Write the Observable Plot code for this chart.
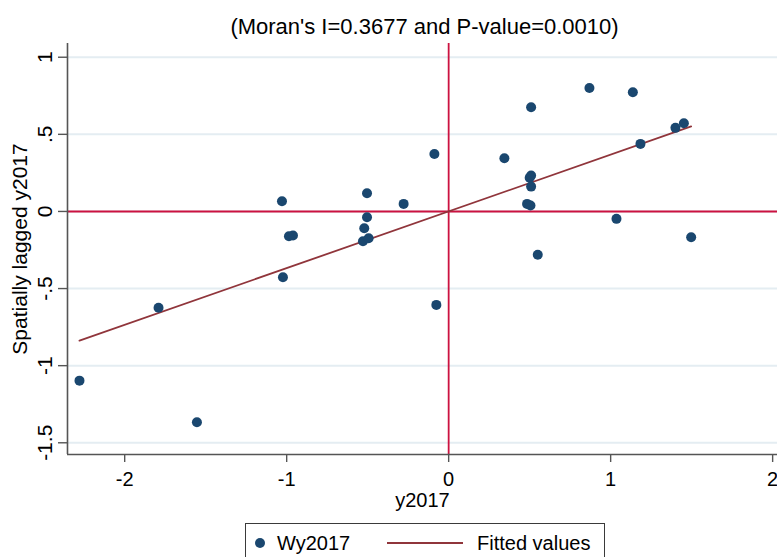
<!DOCTYPE html>
<html>
<head>
<meta charset="utf-8">
<script src="https://cdn.jsdelivr.net/npm/d3@7"></script>
<script src="https://cdn.jsdelivr.net/npm/@observablehq/plot@0.6"></script>
<style>
  html, body { margin: 0; padding: 0; background: #fff; overflow: hidden; }
  #wrap { position: relative; width: 777px; height: 557px; font-family: "Liberation Sans", Arial, sans-serif; color: #000; }
  #title { position: absolute; left: 72px; width: 705px; top: 16px; font-size: 22px; line-height: 22px; text-align: center; white-space: nowrap; }
  #chart { position: absolute; left: 0; top: 40px; }
  #legend { position: absolute; left: 245px; top: 523px; width: 360px; height: 45px; border: 1px solid #3a3a3a; box-sizing: border-box; }
  #legend .dot { position: absolute; left: 9px; top: 14px; width: 10px; height: 10px; border-radius: 50%; background: #1a476f; }
  #legend .txt { position: absolute; top: 9px; font-size: 20px; line-height: 20px; white-space: nowrap; }
  #legend .ln { position: absolute; left: 141px; top: 18px; width: 76px; height: 2px; background: #90353b; }
</style>
</head>
<body>
<div id="wrap">
  <div id="title">(Moran's I=0.3677 and P-value=0.0010)</div>
  <div id="chart"></div>
  <div id="legend">
    <span class="dot"></span><span class="txt" style="left:31px">Wy2017</span>
    <span class="ln"></span><span class="txt" style="left:231px">Fitted values</span>
  </div>
</div>
<script>
// y2017 (standardized) and its spatial lag Wy2017
const y2017 = [-2.279, -1.791, -1.554, -1.029, -1.023, -0.986, -0.961, -0.529, -0.521, -0.504,
               -0.504, -0.494, -0.278, -0.088, -0.076, 0.344, 0.484, 0.505, 0.500, 0.509,
               0.509, 0.509, 0.550, 0.869, 1.036, 1.137, 1.184, 1.400, 1.452, 1.497];
const wy2017 = [-1.097, -0.625, -1.367, 0.066, -0.427, -0.161, -0.156, -0.193, -0.109, -0.038,
                0.118, -0.174, 0.049, 0.373, -0.606, 0.345, 0.049, 0.038, 0.218, 0.233,
                0.161, 0.676, -0.281, 0.801, -0.048, 0.773, 0.438, 0.542, 0.572, -0.167];
// Fitted values line (slope = Moran's I)
const fitX = [-2.279, 1.497];
const fitY = [-0.838, 0.551];
const xTicks = [-2, -1, 0, 1, 2];
const yTicks = [-1.5, -1, -0.5, 0, 0.5, 1];
const xDomain = [-2.353, 2.03];
const yDomain = [-1.576, 1.089];

const points = y2017.map((x, i) => ({x, y: wy2017[i]}));
const fit = fitX.map((x, i) => ({x, y: fitY[i]}));
const fmt = d => String(d).replace(/^(-?)0\./, "$1.");

const plot = Plot.plot({
  width: 777,
  height: 480,
  marginTop: 3,
  marginBottom: 66,
  marginLeft: 67,
  marginRight: 0,
  style: {fontFamily: '"Liberation Sans", Arial, sans-serif', fontSize: "20px", color: "#000", background: "transparent", overflow: "visible"},
  x: {domain: xDomain},
  y: {domain: yDomain},
  marks: [
    Plot.gridY(yTicks, {stroke: "#e4edf2", strokeOpacity: 1, strokeWidth: 2}),
    Plot.ruleY([0], {stroke: "#cc1240", strokeWidth: 2}),
    Plot.ruleX([0], {stroke: "#cc1240", strokeWidth: 1.8}),
    Plot.ruleX([xDomain[0]], {stroke: "#555", strokeWidth: 1.6}),
    Plot.ruleY([yDomain[0]], {stroke: "#555", strokeWidth: 1.6}),
    Plot.axisX(xTicks, {tickSize: 8, tickPadding: 9, stroke: "#555", strokeWidth: 1.4, fontSize: 20, tickFormat: fmt,
      label: "y2017", labelAnchor: "center", labelArrow: "none", labelOffset: 52}),
    Plot.axisY(yTicks, {tickSize: 9, tickPadding: 7, tickRotate: -90, stroke: "#555", strokeWidth: 1.4, fontSize: 20, tickFormat: fmt,
      label: "Spatially lagged y2017", labelAnchor: "center", labelArrow: "none", labelOffset: 55, fontSize: 21}),
    Plot.line(fit, {x: "x", y: "y", stroke: "#90353b", strokeWidth: 1.8}),
    Plot.dot(points, {x: "x", y: "y", r: 5, fill: "#1a476f", stroke: "none"})
  ]
});
document.getElementById("chart").appendChild(plot);
</script>
</body>
</html>
